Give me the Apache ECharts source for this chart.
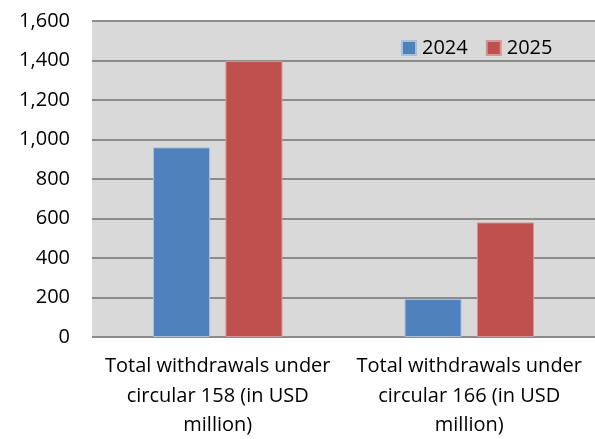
<!DOCTYPE html>
<html><head><meta charset="utf-8">
<script src="https://cdn.jsdelivr.net/npm/echarts@6/dist/echarts.min.js"></script>
<style>html,body{margin:0;padding:0;background:#fff}#c{width:595px;height:439px}</style>
</head><body><div id="c"></div>
<script>
const categories = ["Total withdrawals under\ncircular 158 (in USD\nmillion)", "Total withdrawals under\ncircular 166 (in USD\nmillion)"];
const series2024 = [960, 192];
const series2025 = [1398, 580];
const yTicks = { min: 0, max: 1600, interval: 200 };

const chart = echarts.init(document.getElementById('c'), null, { renderer: 'canvas' });
const font = '"Open Sans", sans-serif';
chart.setOption({
  animation: false,
  grid: { left: 92, right: 0, top: 21, bottom: 102, show: true, backgroundColor: '#D9D9D9', borderWidth: 0,
    containLabel: false, outerBoundsMode: 'none' },
  legend: {
    left: 396, top: 33, itemWidth: 14, itemHeight: 14, itemGap: 18,
    icon: 'rect',
    textStyle: { fontFamily: font, fontSize: 20, color: '#000', padding: [0, 0, 0, 1] },
    data: ['2024', '2025']
  },
  xAxis: {
    type: 'category', data: categories,
    axisLine: { show: false }, axisTick: { show: false },
    axisLabel: { fontFamily: font, fontSize: 20, color: '#000', lineHeight: 29.5, margin: 15, interval: 0 }
  },
  yAxis: {
    type: 'value', min: yTicks.min, max: yTicks.max, interval: yTicks.interval,
    axisLine: { show: false }, axisTick: { show: false },
    splitLine: { lineStyle: { color: '#8C8C8C', width: 2 } },
    axisLabel: { fontFamily: font, fontSize: 20, color: '#000', margin: 22,
      formatter: v => v.toLocaleString('en-US') }
  },
  series: [
    { name: '2024', type: 'bar', data: series2024, barWidth: 57, barGap: '27%',
      itemStyle: { color: '#4F81BD', borderColor: '#A7BEDC', borderWidth: 1 } },
    { name: '2025', type: 'bar', data: series2025, barWidth: 57,
      itemStyle: { color: '#C0504D', borderColor: '#D49694', borderWidth: 1 } }
  ]
});
</script></body></html>
